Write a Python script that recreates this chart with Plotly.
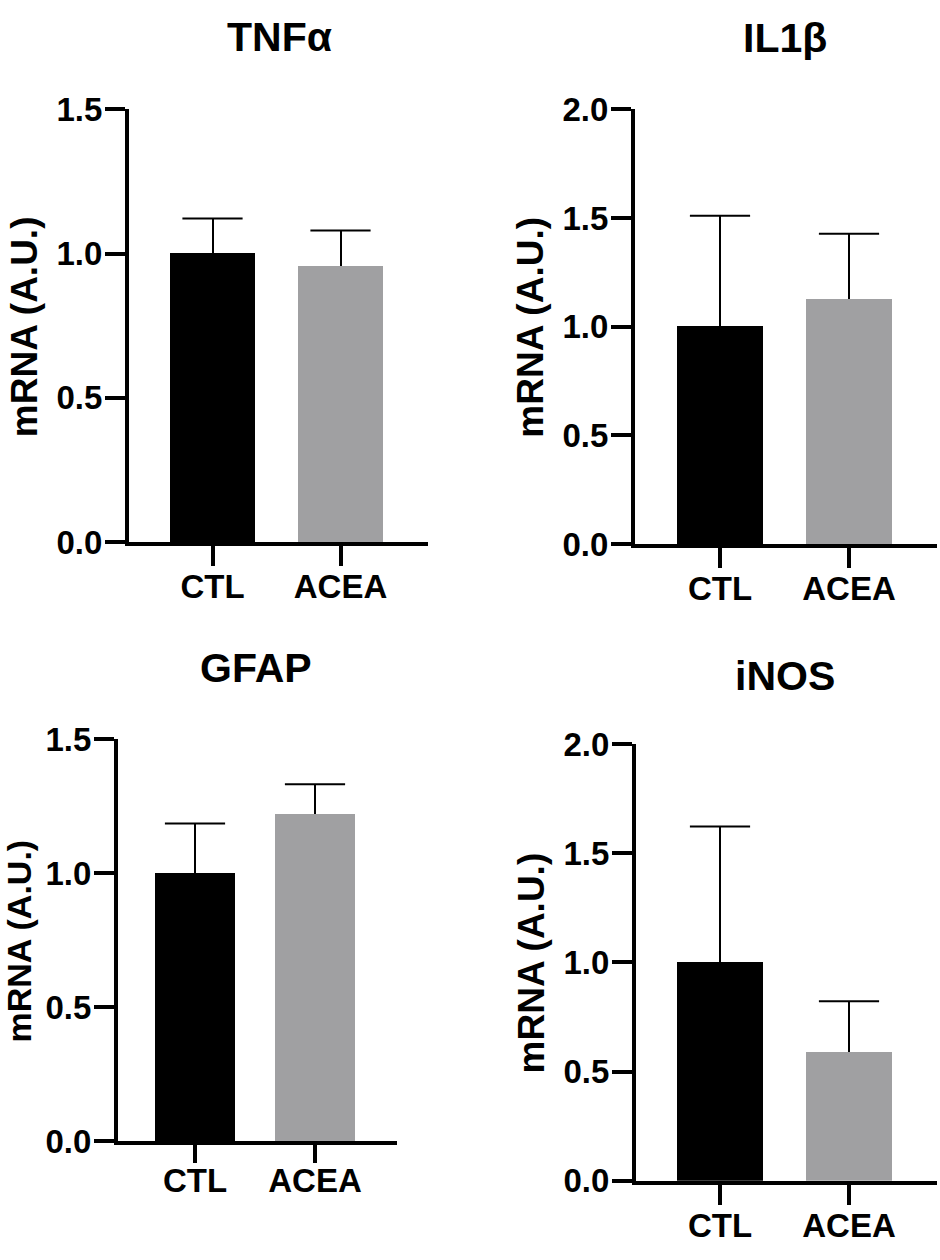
import plotly.graph_objects as go

# data (mean and upper SEM)
groups = ["CTL", "ACEA"]
tnfa_mean = [1.00, 0.956]
tnfa_err = [0.121, 0.124]
il1b_mean = [1.00, 1.125]
il1b_err = [0.510, 0.302]
gfap_mean = [1.00, 1.221]
gfap_err = [0.185, 0.111]
inos_mean = [1.00, 0.590]
inos_err = [0.622, 0.232]

titles = ["TNFα", "IL1β", "GFAP", "iNOS"]
y_ticks = [[0, 0.5, 1.0, 1.5], [0, 0.5, 1.0, 1.5, 2.0],
           [0, 0.5, 1.0, 1.5], [0, 0.5, 1.0, 1.5, 2.0]]
y_ticktext = [["0.0", "0.5", "1.0", "1.5"], ["0.0", "0.5", "1.0", "1.5", "2.0"],
              ["0.0", "0.5", "1.0", "1.5"], ["0.0", "0.5", "1.0", "1.5", "2.0"]]

W, H = 940, 1260
FONT = "Liberation Sans, Arial, sans-serif"
bar_colors = ["#000000", "#a0a0a2"]
LW = 4  # axis line width

# panel geometry in pixels: y-axis line x, axis right end, top tick, x-axis line y,
# centre of first category, category spacing, bar width, title centre, y-title x
panels = [
    dict(x0=127, x1=428, top=94, bot=542, c0=212.5, step=128, bw=85,
         tx=279, ty=20, ax=24.5, afs=37, tl=20, xso=-8),
    dict(x0=633, x1=937, top=94, bot=544, c0=720, step=129, bw=86,
         tx=785, ty=21, ax=531, afs=37, tl=20, xso=-8),
    dict(x0=116, x1=397, top=743, bot=1159, c0=195, step=120, bw=80,
         tx=256, ty=670, ax=19.5, afs=34, tl=18, xso=-11),
    dict(x0=634, x1=937, top=748, bot=1200, c0=720, step=129, bw=86,
         tx=785, ty=678, ax=531, afs=37, tl=20, xso=-7),
]
means = [tnfa_mean, il1b_mean, gfap_mean, inos_mean]
errs = [tnfa_err, il1b_err, gfap_err, inos_err]

fig = go.Figure()
annotations = []

for i, p in enumerate(panels):
    n = "" if i == 0 else str(i + 1)
    xa, ya = "x" + n, "y" + n
    m, e = means[i], errs[i]

    fig.add_trace(go.Bar(
        x=groups, y=m, xaxis=xa, yaxis=ya,
        marker=dict(color=bar_colors, line=dict(width=0)),
        width=p["bw"] / p["step"],
        error_y=dict(type="data", symmetric=False, array=e, arrayminus=[0] * len(e),
                     color="black", thickness=2, width=0),
        showlegend=False, hoverinfo="skip",
    ))
    # caps on top of the error bars
    fig.add_trace(go.Scatter(
        x=groups, y=[a + b for a, b in zip(m, e)], xaxis=xa, yaxis=ya,
        mode="markers",
        marker=dict(symbol="line-ew", size=43, line=dict(width=2, color="black")),
        showlegend=False, hoverinfo="skip",
    ))

    # plotly draws axis lines half a line width outside the domain
    left = p["x0"] + LW / 2
    bottom = p["bot"] - LW / 2
    ymax = y_ticks[i][-1]
    fig.update_layout({
        "xaxis" + n: dict(
            domain=[left / W, p["x1"] / W],
            range=[(left - p["c0"]) / p["step"], (p["x1"] - p["c0"]) / p["step"]],
            anchor=ya, showline=True, linewidth=LW, linecolor="black",
            ticks="outside", ticklen=p["tl"], tickwidth=LW, tickcolor="black",
            ticklabelstandoff=p["xso"],
            showgrid=False, zeroline=False,
            tickfont=dict(family=FONT, size=33, color="black", weight="bold"),
        ),
        "yaxis" + n: dict(
            domain=[1 - bottom / H, 1 - p["top"] / H],
            range=[0, ymax], anchor=xa,
            showline=True, linewidth=LW, linecolor="black",
            ticks="outside", ticklen=20, tickwidth=LW, tickcolor="black",
            tickvals=y_ticks[i], ticktext=y_ticktext[i],
            ticklabelstandoff=-4,
            showgrid=False, zeroline=False,
            tickfont=dict(family=FONT, size=33, color="black", weight="bold"),
        ),
    })

    annotations.append(dict(
        text=titles[i], x=p["tx"] / W, y=1 - p["ty"] / H, xref="paper", yref="paper",
        xanchor="center", yanchor="middle", showarrow=False,
        font=dict(family=FONT, size=41, color="black", weight="bold"),
    ))
    annotations.append(dict(
        text="mRNA (A.U.)", x=p["ax"] / W, y=1 - (p["top"] + p["bot"]) / 2 / H,
        xref="paper", yref="paper", xanchor="center", yanchor="middle",
        textangle=-90, showarrow=False,
        font=dict(family=FONT, size=p["afs"], color="black", weight="bold"),
    ))

fig.update_layout(
    width=W, height=H,
    margin=dict(l=0, r=0, t=0, b=0),
    paper_bgcolor="white", plot_bgcolor="white",
    bargap=0, annotations=annotations,
)

fig.write_html("out.html", config={"displayModeBar": False},
               post_script="document.body.style.margin='0';")
